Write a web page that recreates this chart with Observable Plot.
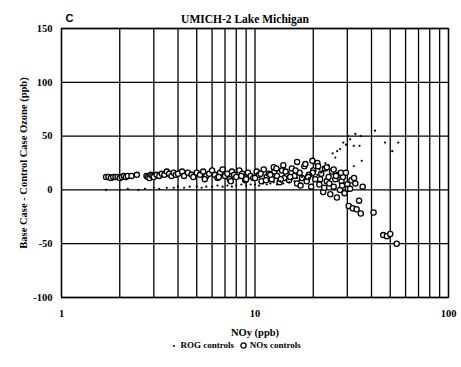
<!DOCTYPE html>
<html><head><meta charset="utf-8">
<script src="https://cdn.jsdelivr.net/npm/d3@7"></script>
<script src="https://cdn.jsdelivr.net/npm/@observablehq/plot@0.6"></script>
<style>
body{margin:0;background:#fff;font-family:"Liberation Serif",serif;}
#legend{width:461px;height:27px;line-height:26px;text-align:center;font:bold 9px "Liberation Serif",serif;color:#000;padding-left:10px;box-sizing:border-box}
#legend svg{vertical-align:middle}
</style></head><body>
<div id="chart"></div>
<div id="legend"></div>
<script>
const title = "UMICH-2 Lake Michigan";
const panel = "C";
const xLabel = "NOy (ppb)";
const yLabel = "Base Case - Control Case Ozone (ppb)";
const xTickLabels = [1, 10, 100];
const xGrid = [1,2,3,4,5,6,7,8,9,10,20,30,40,50,60,70,80,90,100];
const yTicks = [-100, -50, 0, 50, 100, 150];
const seriesNames = ["ROG controls", "NOx controls"];

// NOx controls: [NOy, ozone difference]
const noxX = [1.70,1.75,1.80,1.85,1.90,1.95,2.0,2.05,2.1,2.15,2.2,2.3,2.45,
  2.75,2.8,2.85,2.9,2.95,3.0,3.1,3.2,3.3,3.4,3.5,3.6,3.7,3.8,3.9,4.0,4.2,4.3,4.5,4.7,4.8,5.0,5.2,5.4,5.6,5.8,6.0,6.2,6.4,6.6,6.8,7.0,7.2,7.4,7.6,7.8,8.0,8.3,8.6,8.9,9.2,9.5,9.8,10.2,10.5,10.8,11.1,11.5,11.8,12.2,12.6,13.0,13.4,13.8,14.2,14.6,15.0,15.5,16.0,16.5,17.0,17.5,18.0,18.5,19.0,19.5,20.0,20.5,21.0,21.5,22.0,22.5,23.0,23.5,24.0,24.5,25.0,25.5,26.0,26.5,27.0,27.5,28.0,28.5,29.0,30.0,30.5,31.5,32.0,33.0,33.5,34.5,35.2,36.0,41,46,48,50,54,
  16.5,18.2,19.8,21.2,23.5,25.5,27.8,30.2,12.5,14.0,
  10.0,10.7,11.4,12.0,12.9,13.6,14.4,15.2,16.2,17.2,18.8,19.9,21.7,22.8,24.2,26.2,28.2,29.5,31.0,32.5,5.5,6.5,7.5,8.5,9.0];
const noxY = [12,12,11,12,12,12,11,12,13,12,13,13,14,
  13,12,11,14,13,12,14,13,15,14,17,15,13,16,14,15,17,13,16,14,12,16,14,17,13,15,18,14,11,16,19,13,15,10,17,14,12,18,15,9,16,13,11,17,14,8,19,12,15,10,17,13,7,18,11,15,9,20,13,6,16,11,22,8,14,3,18,10,25,5,15,-2,20,8,12,-4,17,3,10,-7,14,0,8,12,-3,5,-15,9,-17,6,-18,-10,-22,3,-21,-42,-43,-41,-50,
  26,24,27,22,21,19,16,1,21,23,
  11,15,9,14,20,10,17,12,18,4,12,16,10,2,6,13,4,16,1,11,10,12,8,13,10];

// ROG controls: [NOy, ozone difference]
const rogX = [1.7,2.0,2.2,2.5,2.7,3.0,3.2,3.5,3.8,4.0,4.3,4.6,5.0,5.3,5.6,6.0,6.4,6.8,7.2,7.6,8.0,8.5,9.0,9.5,10,10.5,11,11.5,12,12.5,13,13.5,14,14.5,15,15.5,16,16.5,17,17.5,18,18.5,19,19.5,20,20.5,21,21.5,22,22.5,23.1,24,25.2,26,26.6,27.5,28.6,29.5,30.4,31,32.4,32.4,33,34.7,35.2,35.6,41.7,47,51.2,55];
const rogY = [0,0,1,0,1,2,1,2,2,3,2,3,3,2,3,3,4,3,4,3,4,5,4,5,5,4,6,5,6,7,5,8,6,9,7,10,8,11,9,12,10,14,11,15,13,17,14,19,16,21,25,23,34,30,36,38,44,42,50,47,41,22,52,41,50,27,55,44,36,44];

const nox = noxX.map((x, i) => ({x, y: noxY[i]}));
const rog = rogX.map((x, i) => ({x, y: rogY[i]}));

const font = "Liberation Serif";
const plot = Plot.plot({
  width: 461, height: 340,
  marginTop: 28, marginBottom: 43, marginLeft: 61, marginRight: 13,
  style: {fontFamily: font, fontWeight: "bold", fontSize: "10.5px", background: "white", color: "black"},
  x: {type: "log", domain: [1, 100], ticks: xTickLabels, tickFormat: d => String(d), tickSize: 0, tickPadding: 12,
      label: xLabel, labelAnchor: "center", labelOffset: 38, labelArrow: "none"},
  y: {domain: [-100, 150], ticks: yTicks, tickFormat: d => String(d), tickSize: 0, tickPadding: 9,
      label: yLabel, labelAnchor: "center", labelOffset: 42, labelArrow: "none"},
  marks: [
    Plot.ruleX(xGrid, {stroke: "black", strokeWidth: 1.3}),
    Plot.ruleY(yTicks, {stroke: "black", strokeWidth: 1.3}),
    Plot.frame({stroke: "black", strokeWidth: 1.3}),
    Plot.dot(nox, {x: "x", y: "y", r: 2.6, stroke: "black", strokeWidth: 1.3, fill: "white"}),
    Plot.dot(rog, {x: "x", y: "y", r: 1.1, fill: "black", stroke: "none"}),
    Plot.text([title], {frameAnchor: "top", dy: -14, dx: -10, text: d => d, fontSize: 11.5, fontWeight: "bold"}),
    Plot.text([panel], {frameAnchor: "top-left", dx: 4, dy: -14, text: d => d, fontSize: 11, fontWeight: "bold", fontFamily: "Liberation Sans", textAnchor: "start"})
  ]
});
document.getElementById("chart").appendChild(plot);

const lg = document.getElementById("legend");
lg.innerHTML =
  `<svg width="8" height="8"><circle cx="4" cy="4" r="1" fill="black"/></svg> ${seriesNames[0]} &nbsp;` +
  `<svg width="9" height="9"><circle cx="4.5" cy="4.5" r="2.6" fill="white" stroke="black" stroke-width="1.3"/></svg> ${seriesNames[1]}`;
</script>
</body></html>
